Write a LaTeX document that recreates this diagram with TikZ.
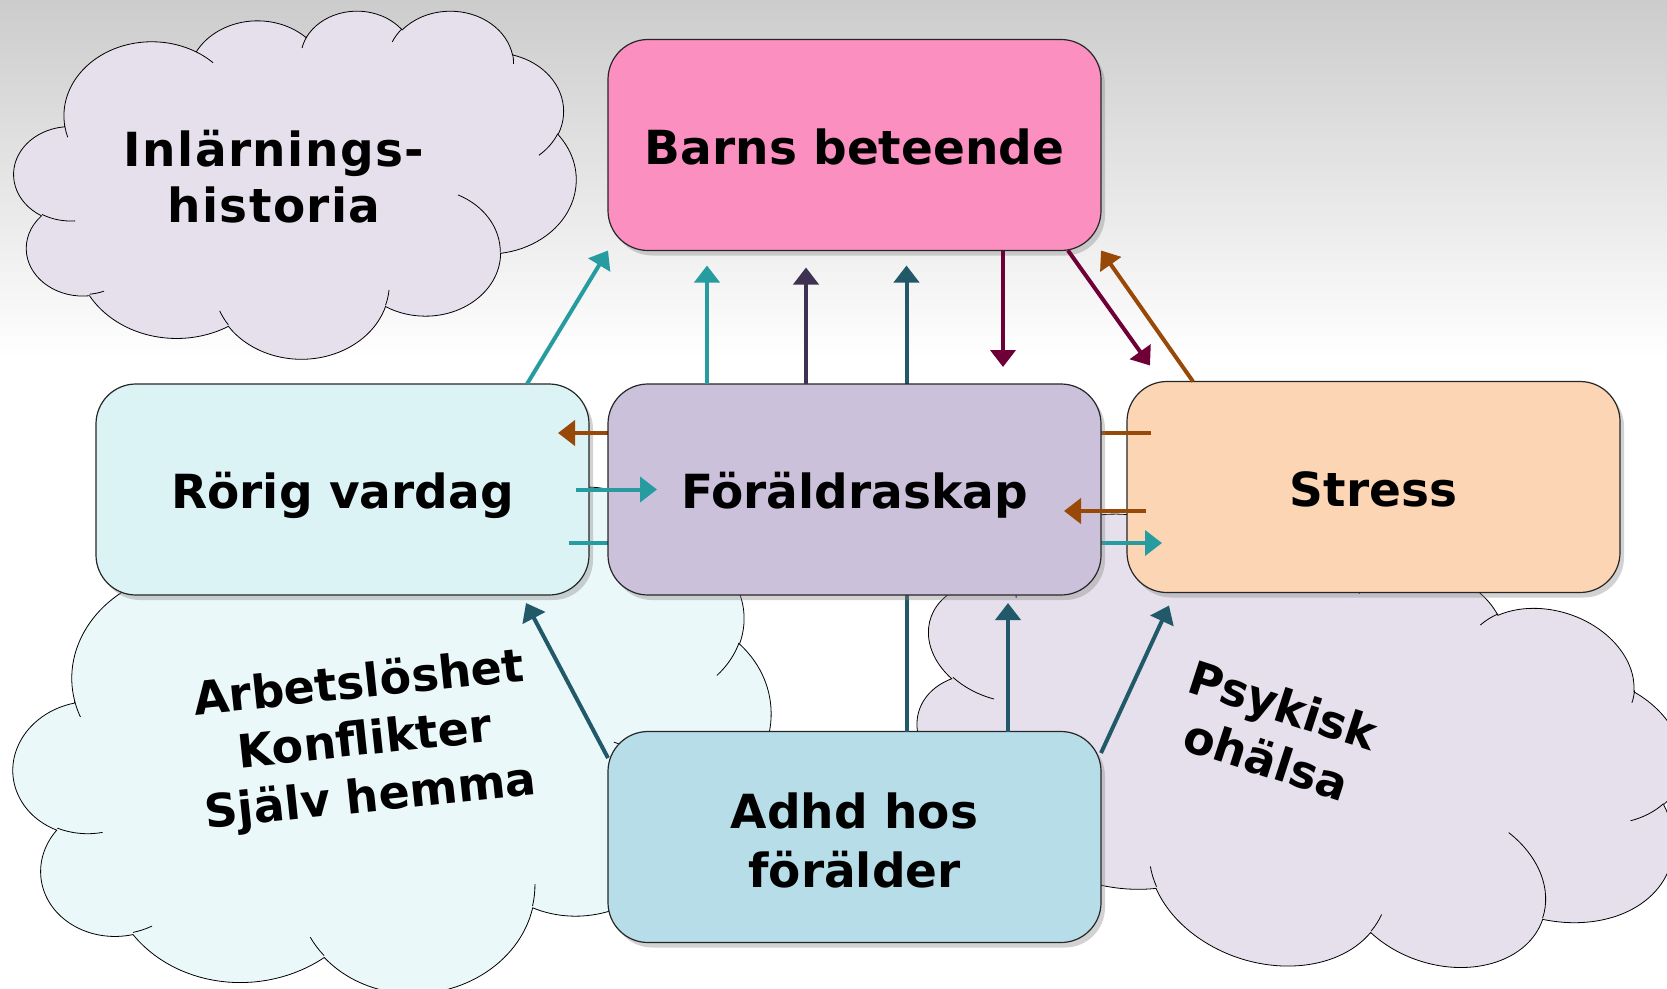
\documentclass[tikz,border=0pt]{standalone}
\usepackage{fontspec}
\setmainfont{DejaVu Sans}
\newfontfamily\spacedfont[LetterSpace=3]{DejaVu Sans}
\usetikzlibrary{shadows,arrows.meta}
\definecolor{pinkbox}{HTML}{FB8FC0}
\definecolor{lilacbox}{HTML}{CCC1DA}
\definecolor{cyanbox}{HTML}{DBF3F5}
\definecolor{peachbox}{HTML}{FCD5B5}
\definecolor{bluebox}{HTML}{B7DDE8}
\definecolor{cloudlilac}{HTML}{E5E0EC}
\definecolor{cloudcyan}{HTML}{EAF8FA}
\definecolor{cteal}{HTML}{279CA0}
\definecolor{cpurple}{HTML}{3F3151}
\definecolor{cdteal}{HTML}{215968}
\definecolor{cmaroon}{HTML}{6E0037}
\definecolor{cbrown}{HTML}{984807}
% cloud outline (office-style), drawn in a 100x100 frame centred on (0,0)
\newcommand\pptcloud[6]{%
  \begin{scope}[shift={(#2,#3)}, rotate=#6, x=#4pt, y=-#5pt]
    \path[fill=#1, draw=black, line width=0.8pt] (-40.972,-16.736)
      arc[start angle=-187.74, end angle=-59.63, x radius=15.632, y radius=21.273]
      arc[start angle=-152.03, end angle=-45.43, x radius=12.345, y radius=16.822]
      arc[start angle=-153.50, end angle=-37.33, x radius=10.104, y radius=13.762]
      arc[start angle=-139.71, end angle=-10.21, x radius=11.243, y radius=15.266]
      arc[start angle=-74.77, end angle=23.21, x radius=12.345, y radius=16.836]
      arc[start angle=-37.52, end angle=81.86, x radius=15.683, y radius=21.343]
      arc[start angle=0.46, end angle=121.97, x radius=13.391, y radius=18.211]
      arc[start angle=16.84, end angle=146.23, x radius=15.630, y radius=21.331]
      arc[start angle=58.98, end angle=150.20, x radius=17.870, y radius=24.405]
      arc[start angle=-276.69, end angle=-136.90, x radius=10.093, y radius=13.699]
      arc[start angle=-239.64, end angle=-95.89, x radius=10.058, y radius=13.762]
      -- cycle;
    \draw[line width=0.8pt]
      (-39.137,10.595) arc[start angle=85.55, end angle=120.36, x radius=10.058, y radius=13.762]
      (-33.963,30.785) arc[start angle=68.23, end angle=83.31, x radius=10.093, y radius=13.699]
      (-11.856,40.486) arc[start angle=146.23, end angle=158.47, x radius=15.630, y radius=21.331]
      (16.729,30.442) arc[start angle=4.74, end angle=16.84, x radius=15.630, y radius=21.331]
      (29.002,3.134) arc[start angle=-64.03, end angle=0.46, x radius=13.391, y radius=18.211]
      (46.755,-14.458) arc[start angle=23.21, end angle=49.64, x radius=12.345, y radius=16.836]
      (38.713,-37.440) arc[start angle=-10.21, end angle=0.82, x radius=11.243, y radius=15.266]
      (17.310,-40.852) arc[start angle=-156.29, end angle=-139.71, x radius=11.243, y radius=15.266]
      (1.252,-39.074) arc[start angle=-167.73, end angle=-153.50, x radius=10.104, y radius=13.762]
      (-17.593,-37.981) arc[start angle=-59.63, end angle=-45.72, x radius=15.632, y radius=21.273]
      (-40.447,-13.451) arc[start angle=163.20, end angle=172.26, x radius=15.632, y radius=21.273];
  \end{scope}}
\begin{document}
\begin{tikzpicture}[x=1pt,y=-1pt,
  box/.style={draw=black!85, line width=1.2pt, rounded corners=40pt,
    minimum width=493pt, minimum height=211pt, outer sep=0pt, align=center,
    font=\fontsize{47}{59}\selectfont\bfseries, text height=38pt, text depth=0pt,
    drop shadow={shadow xshift=4pt, shadow yshift=-5pt, opacity=0.35}},
  boxtwo/.style={box, text height=, text depth=},
  cloudtext/.style={align=center, font=\fontsize{46}{57}\selectfont\bfseries},
  conn/.style={line width=4pt, -{Triangle[length=17pt,width=25pt]}},
]
\useasboundingbox (0,0) rectangle (1667,988);
% background
\fill[white] (0,0) rectangle (1667,988);
\fill[top color=gray!40, bottom color=white] (0,0) rectangle (1667,360);

% clouds
\pptcloud{cloudlilac}{295}{184}{5.62}{3.48}{0}
\pptcloud{cloudcyan}{393}{750}{7.60}{4.87}{6}
\pptcloud{cloudlilac}{1298}{750}{7.79}{4.29}{-18}

\node[cloudtext, font=\fontsize{47}{56}\spacedfont\bfseries] (t1) at (274,177) {Inlärnings-\\historia};
\node[cloudtext, rotate=6] (t2) at (365,742) {Arbetslöshet\\Konflikter\\Själv hemma};
\node[cloudtext, rotate=-18] (t3) at (1275,732) {Psykisk\\ohälsa};

% boxes
\node[box, fill=pinkbox] (barns) at (854.5,145) {Barns beteende};
\node[box, fill=cyanbox] (rorig) at (342.5,489.5) {Rörig vardag};
\node[box, fill=peachbox] (stress) at (1373.5,487) {Stress};
\node[boxtwo, fill=bluebox] (adhd) at (854.5,837) {\rule{0pt}{42pt}Adhd hos\\förälder};

% connectors passing behind Föräldraskap
\draw[conn, cdteal] ([xshift=52pt]adhd.north) -- ([xshift=52pt,yshift=-15pt]barns.south);
\draw[conn, cbrown] ([xshift=24pt,yshift=54pt]stress.west) -- ([xshift=-31pt,yshift=56.5pt]rorig.east);
\draw[conn, cteal] ([xshift=-20pt,yshift=-53.5pt]rorig.east) -- ([xshift=35pt,yshift=-56pt]stress.west);

\node[box, fill=lilacbox] (foral) at (854.5,489.5) {Föräldraskap};

% remaining connectors
\draw[conn, cteal] ([xshift=184.5pt]rorig.north) -- (barns.south west);
\draw[conn, cteal] ([xshift=-147.5pt]foral.north) -- ([xshift=-147.5pt,yshift=-15pt]barns.south);
\draw[conn, cpurple] ([xshift=-48.5pt]foral.north) -- ([xshift=-48.5pt,yshift=-17pt]barns.south);
\draw[conn, cmaroon] ([xshift=148.5pt]barns.south) -- ([xshift=148.5pt,yshift=17pt]foral.north);
\draw[conn, cmaroon] ([xshift=-33pt]barns.south east) -- ([xshift=23pt,yshift=16pt]stress.north west);
\draw[conn, cbrown] ([xshift=66pt]stress.north west) -- (barns.south east);
\draw[conn, cteal] ([xshift=-13pt]rorig.east) -- ([xshift=49pt]foral.west);
\draw[conn, cbrown] ([xshift=19pt,yshift=-24pt]stress.west) -- ([xshift=-37pt,yshift=-21.5pt]foral.east);
\draw[conn, cdteal] ([yshift=79pt]adhd.west) -- ([xshift=183.5pt,yshift=-8pt]rorig.south);
\draw[conn, cdteal] ([xshift=153.5pt]adhd.north) -- ([xshift=153.5pt,yshift=-8pt]foral.south);
\draw[conn, cdteal] ([yshift=84pt]adhd.east) -- ([xshift=42pt,yshift=-13pt]stress.south west);
\end{tikzpicture}
\end{document}
